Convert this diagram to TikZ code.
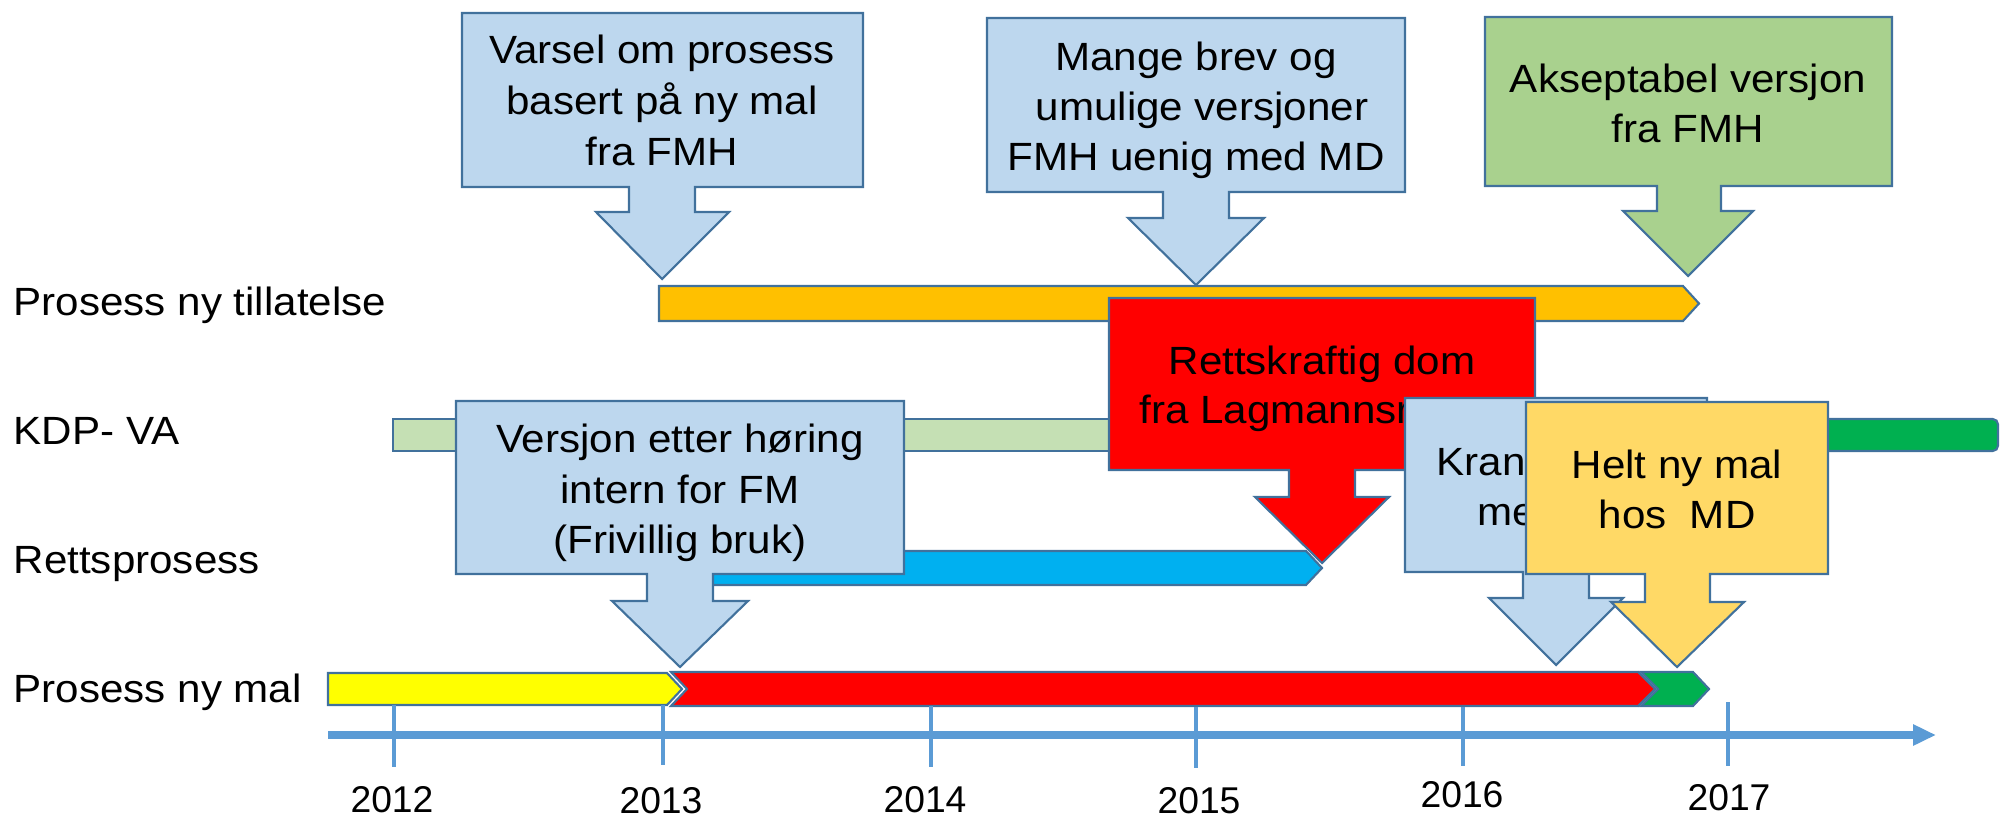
\documentclass[tikz,border=0pt]{standalone}
\usepackage{fontspec}
\setmainfont{Liberation Sans}[FakeStretch=1.07]
\newfontfamily\yearfont{Liberation Sans}
\usetikzlibrary{arrows.meta}
\definecolor{edgeblue}{RGB}{65,113,156}
\definecolor{axisblue}{RGB}{91,155,213}
\definecolor{calloutblue}{RGB}{189,215,238}
\definecolor{calloutgreen}{RGB}{169,209,142}
\definecolor{calloutyellow}{RGB}{255,217,102}
\definecolor{calloutred}{RGB}{255,0,0}
\definecolor{barorange}{RGB}{255,192,0}
\definecolor{barlight}{RGB}{197,224,180}
\definecolor{bargreen}{RGB}{0,176,80}
\definecolor{barblue}{RGB}{0,176,240}
\definecolor{baryellow}{RGB}{255,255,0}
\definecolor{barred}{RGB}{255,0,0}

\begin{document}
\begin{tikzpicture}[x=0.01cm,y=-0.01cm]
				\tikzstyle{every node}=[inner sep=0pt, font=\fontsize{11.2}{13}\selectfont];
				\tikzstyle{callout}=[draw=edgeblue, line width=0.6pt, line join=miter];
				\tikzstyle{bar}=[draw=edgeblue, line width=0.6pt, line join=miter];
				\tikzstyle{tick}=[draw=axisblue, line width=1.3pt];
				\tikzstyle{year}=[anchor=base, font=\yearfont\fontsize{10.6}{12}\selectfont];
				\useasboundingbox (0,0) rectangle (2000,818);
				\node [anchor=base west] (l1) at (13,315) {Prosess ny tillatelse};
				\node [anchor=base west] (l2) at (13,444) {KDP- VA};
				\node [anchor=base west] (l3) at (13,573) {Rettsprosess};
				\node [anchor=base west] (l4) at (13,702) {Prosess ny mal};
				\draw [bar, fill=barlight] (393,419) rectangle (1700,451);
				\draw [bar, fill=bargreen, rounded corners=1.5pt] (1700,419) rectangle (1998,451);
				\draw [bar, fill=barorange] (659,286) -- (1683,286) -- (1699,303.5) -- (1683,321) -- (659,321) -- cycle;
				\draw [bar, fill=barblue] (680,551) -- (1306,551) -- (1322,568) -- (1306,585) -- (680,585) -- cycle;
				\draw [bar, fill=baryellow] (328,673) -- (667,673) -- (682,689) -- (667,705) -- (328,705) -- cycle;
				\draw [bar, fill=barred] (671,672) -- (1638,672) -- (1655,689) -- (1638,706) -- (671,706) -- (687,689) -- cycle;
				\draw [bar, fill=bargreen] (1641,672) -- (1693,672) -- (1709,689) -- (1693,706) -- (1641,706) -- (1658,689) -- cycle;
				\draw [axisblue, line width=2pt, -{Triangle[length=0.23cm, width=0.2cm]}] (328,735) -- (1936,735);
				\draw [tick] (394,705) -- (394,767);
				\draw [tick] (663,705) -- (663,765);
				\draw [tick] (931,706) -- (931,767);
				\draw [tick] (1196,707) -- (1196,768);
				\draw [tick] (1463,707) -- (1463,766);
				\draw [tick] (1728,702) -- (1728,766);
				\node [year] (y12) at (392,812) {2012};
				\node [year] (y13) at (661,813) {2013};
				\node [year] (y14) at (925,812) {2014};
				\node [year] (y15) at (1199,813) {2015};
				\node [year] (y16) at (1462,807) {2016};
				\node [year] (y17) at (1729,810) {2017};
				\draw [callout, fill=calloutblue] (462,13) -- (863,13) -- (863,187) -- (695,187) -- (695,212) -- (729,212) -- (662,279) -- (596,212) -- (629,212) -- (629,187) -- (462,187) -- cycle;
				\node [anchor=base] (t11) at (662,63) {Varsel om prosess};
				\node [anchor=base] (t12) at (662,114) {basert på ny mal};
				\node [anchor=base] (t13) at (662,165) {fra FMH};
				\draw [callout, fill=calloutblue] (987,18) -- (1405,18) -- (1405,192) -- (1229,192) -- (1229,218) -- (1264,218) -- (1196,285) -- (1128,218) -- (1163,218) -- (1163,192) -- (987,192) -- cycle;
				\node [anchor=base] (t21) at (1196,70) {Mange brev og};
				\node [anchor=base] (t22) at (1202,120) {umulige versjoner};
				\node [anchor=base] (t23) at (1196,170) {FMH uenig med MD};
				\draw [callout, fill=calloutgreen] (1485,17) -- (1892,17) -- (1892,186) -- (1721,186) -- (1721,211) -- (1753,211) -- (1688,276) -- (1623,211) -- (1657,211) -- (1657,186) -- (1485,186) -- cycle;
				\node [anchor=base] (t31) at (1688,92) {Akseptabel versjon};
				\node [anchor=base] (t32) at (1688,142) {fra FMH};
				\draw [callout, fill=calloutblue] (456,401) -- (904,401) -- (904,574) -- (713,574) -- (713,601) -- (748,601) -- (680,667) -- (612,601) -- (647,601) -- (647,574) -- (456,574) -- cycle;
				\node [anchor=base] (t41) at (680,452) {Versjon etter høring};
				\node [anchor=base] (t42) at (680,503) {intern for FM};
				\node [anchor=base] (t43) at (680,553) {(Frivillig bruk)};
				\draw [callout, fill=calloutred] (1109,298) -- (1535,298) -- (1535,470) -- (1355,470) -- (1355,497) -- (1389,497) -- (1322,563) -- (1255,497) -- (1289,497) -- (1289,470) -- (1109,470) -- cycle;
				\node [anchor=base] (t51) at (1322,374) {Rettskraftig dom};
				\node [anchor=base] (t52) at (1322,423) {fra Lagmannsretten};
				\draw [callout, fill=calloutblue] (1405,398) -- (1707,398) -- (1707,572) -- (1589,572) -- (1589,598) -- (1623,598) -- (1556,665) -- (1489,598) -- (1523,598) -- (1523,572) -- (1405,572) -- cycle;
				\node [anchor=base west] (t61) at (1436,475) {Kran};
				\node [anchor=base west] (t62) at (1477,525) {me};
				\draw [callout, fill=calloutyellow] (1526,402) -- (1828,402) -- (1828,574) -- (1710,574) -- (1710,602) -- (1744,602) -- (1677,667) -- (1611,602) -- (1645,602) -- (1645,574) -- (1526,574) -- cycle;
				\node [anchor=base] (t71) at (1677,478) {Helt ny mal};
				\node [anchor=base] (t72) at (1677,528) {hos\ \ MD};
			\end{tikzpicture}
\end{document}
